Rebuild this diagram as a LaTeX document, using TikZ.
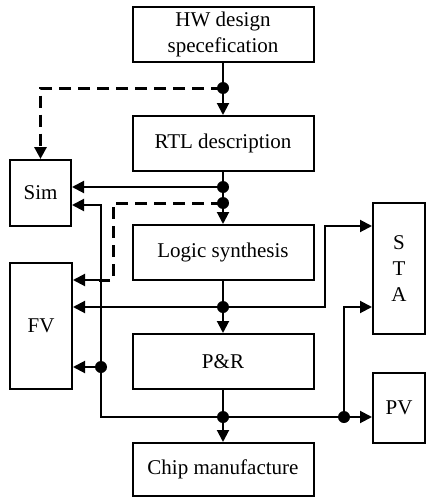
\documentclass[tikz,border=0pt]{standalone}
\usepackage{fontspec}
\setmainfont{Liberation Serif}
\usepackage{tikz}
\usetikzlibrary{positioning,arrows.meta,calc}
\tikzset{
  box/.style={draw=black, line width=1pt, fill=white, align=center, minimum width=#1, inner sep=1pt, font=\fontsize{10.5}{13}\selectfont},
  box/.default={90.5pt},
  wire/.style={line width=1pt, draw=black},
  arrow/.style={-{Triangle[length=6pt,width=6pt]}, line width=1pt, draw=black},
  dashwire/.style={line width=1.5pt, draw=black, dash pattern=on 6pt off 3.5pt},
  dot/.style={fill=black}
}

\begin{document}
\begin{tikzpicture}[x=0.5pt, y=-0.5pt]
  \useasboundingbox (0,0) rectangle (430,498);
  % main flow
  \node[box, minimum height=27.5pt] (hw) at (223,34.5) {HW design\\specefication};
  \node[box, minimum height=27.5pt] (rtl) at (223,143.5) {RTL description};
  \node[box, minimum height=27.5pt] (ls) at (223,252.5) {Logic synthesis};
  \node[box, minimum height=27.5pt] (pr) at (223,361.5) {P\&R};
  \node[box, minimum height=26.5pt] (chip) at (223,469.5) {Chip manufacture};
  % checks on the sides
  \node[box=30.5pt, minimum height=33pt] (sim) at (40.5,193) {Sim};
  \node[box=31pt, minimum height=63pt] (fv) at (41,326) {FV};
  \node[box=26pt, minimum height=65.5pt] (sta) at (399,268.5) {S\\T\\A};
  \node[box=26pt, minimum height=35pt] (pv) at (399,408) {PV};
  % branch points
  \coordinate (d1) at (223,88);
  \coordinate (d2) at (223,187);
  \coordinate (d3) at (223,203);
  \coordinate (d4) at (223,307);
  \coordinate (d5) at (223,417);
  \coordinate (d6) at (344,417);
  \coordinate (d7) at (101,367);
  \coordinate (k1) at (113,280);
  \coordinate (k2) at (325,226);
  \coordinate (k3) at (101,205);

  \draw[wire] (hw) -- (d1);
  \draw[arrow] (d1) -- (rtl);
  \draw[dashwire, -{Triangle[length=6pt,width=6pt]}] (d1) -| (sim);

  \draw[wire] (rtl) -- (d3);
  \draw[arrow] (d3) -- (ls);
  \draw[arrow] (d2) -- (d2 -| sim.east);
  \draw[dashwire] (d3) -| (k1) -- ($(k1)+(-14,0)$);
  \draw[arrow] ($(k1)+(-14,0)$) -- (k1 -| fv.east);

  \draw[wire] (ls) -- (d4);
  \draw[arrow] (d4) -- (pr);
  \draw[arrow] (d4) -- (d4 -| fv.east);
  \draw[arrow] (d4) -| (k2) -- (k2 -| sta.west);

  \draw[wire] (pr) -- (d5);
  \draw[arrow] (d5) -- (chip);
  \draw[arrow] (d5) -- (d5 -| pv.west);
  \draw[arrow] (d6) |- (sta.west |- d4);
  \draw[arrow] (d5) -| (k3) -- (k3 -| sim.east);
  \draw[arrow] (d7) -- (d7 -| fv.east);

  \foreach \d in {d1,d2,d3,d4,d5,d6,d7}
    \fill[dot] (\d) circle (3pt);
\end{tikzpicture}
\end{document}
